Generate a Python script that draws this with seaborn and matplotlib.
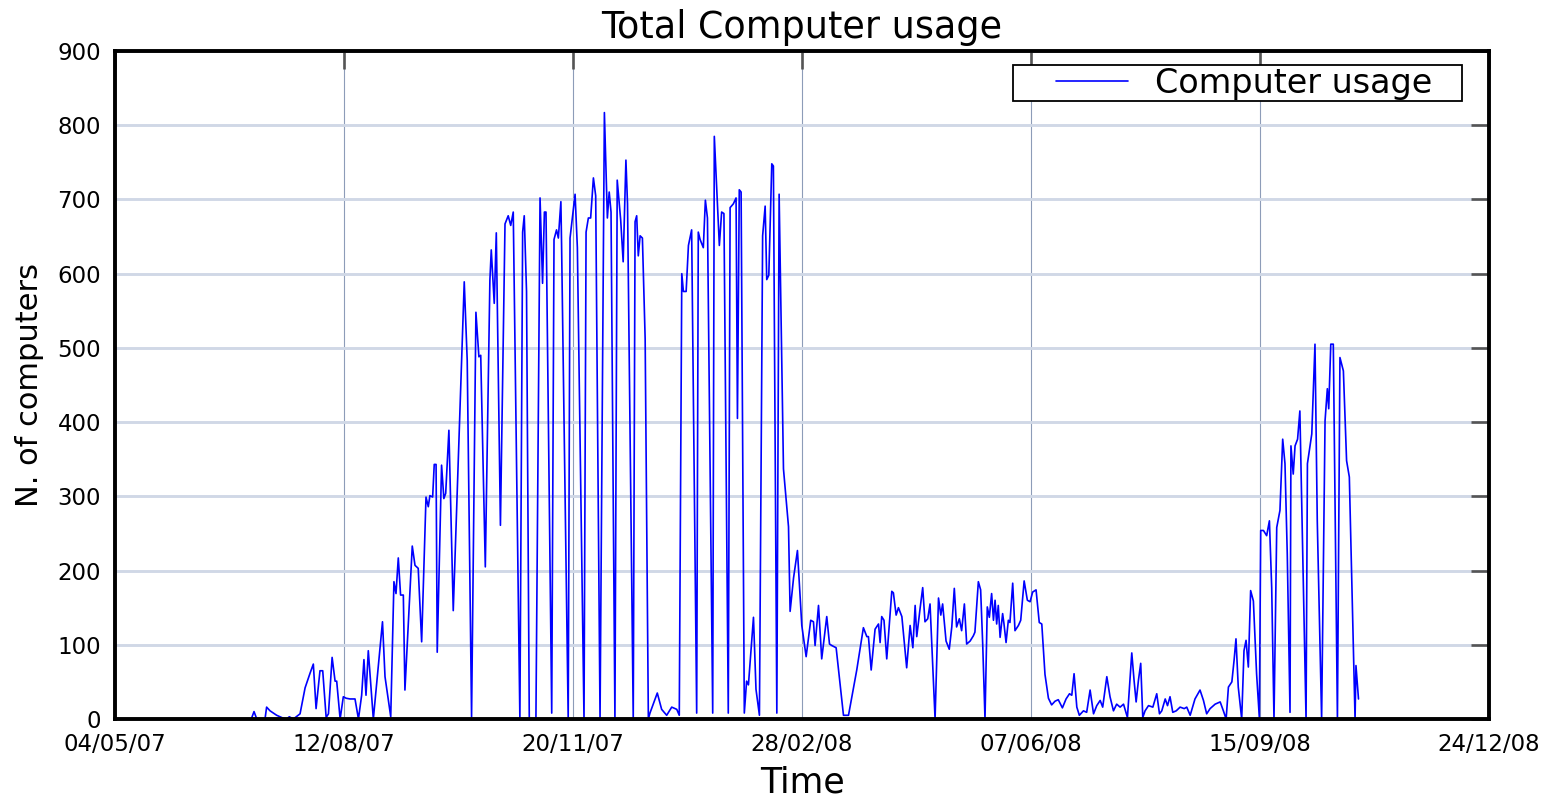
import pandas as pd
import matplotlib
matplotlib.use("Agg")
import matplotlib.pyplot as plt
import matplotlib.dates as mdates
from matplotlib.legend_handler import HandlerLine2D
from matplotlib.path import Path
import seaborn as sns

# Days counted from 04/05/07, and number of computers
start = pd.Timestamp("2007-05-04")
day_offset = [
    59.5, 60.7, 61.9, 65.5, 66.2, 67.7, 70.6, 73.5, 75.0, 76.1, 77.9, 80.8, 83.0, 85.2, 86.6,
    87.8, 89.5, 90.7, 92.2, 93.2, 94.8, 96.1, 96.8, 98.3, 99.7, 100.9, 102.6, 104.8, 106.3,
    107.7, 108.7, 109.6, 110.6, 112.8, 116.8, 117.9, 120.4, 121.8, 122.7, 123.7, 124.7, 125.9,
    126.6, 129.8, 131.0, 132.4, 133.9, 135.8, 136.8, 137.5, 138.7, 139.4, 140.2, 140.7, 142.6,
    143.6, 144.4, 145.8, 147.7, 152.5, 153.8, 155.7, 157.6, 158.9, 159.7, 161.7, 163.7, 164.3,
    165.6, 166.5, 168.3, 170.3, 171.7, 172.8, 173.9, 176.8, 178.0, 178.7, 179.7, 180.9, 183.8,
    185.6, 186.7, 187.5, 188.2, 190.7, 191.7, 192.8, 193.6, 194.7, 195.0, 197.9, 198.7, 200.9,
    201.9, 204.8, 205.7, 206.7, 207.7, 208.9, 209.9, 211.8, 213.7, 215.0, 215.8, 216.6, 218.3,
    219.3, 220.8, 221.9, 223.1, 223.8, 226.3, 227.1, 227.8, 228.5, 229.3, 230.3, 231.5, 232.9,
    233.6, 236.8, 238.7, 240.9, 243.1, 245.3, 246.4, 247.5, 248.2, 249.4, 250.4, 251.8, 254.0,
    254.7, 255.5, 256.9, 257.8, 258.7, 261.0, 261.7, 263.9, 264.9, 265.9, 267.8, 268.6, 270.0,
    271.2, 271.8, 272.6, 273.4, 274.8, 275.8, 276.6, 278.8, 279.9, 281.4, 282.8, 283.9, 284.6,
    285.5, 286.8, 287.5, 289.0, 290.0, 291.9, 294.1, 294.8, 296.3, 298.0, 299.9, 301.8, 303.8,
    305.0, 305.7, 307.2, 308.6, 310.8, 312.0, 313.0, 314.9, 318.1, 320.3, 323.9, 326.8, 328.3,
    329.0, 330.2, 331.9, 333.4, 334.1, 334.8, 335.8, 337.0, 339.2, 339.9, 341.1, 342.1, 343.6,
    345.7, 347.2, 348.4, 349.4, 350.1, 351.6, 352.7, 353.7, 354.9, 355.9, 358.1, 359.6, 360.6,
    361.4, 362.9, 364.3, 365.4, 366.5, 367.5, 368.7, 369.7, 370.9, 371.9, 373.4, 374.8, 375.5,
    377.0, 378.0, 378.9, 379.9, 380.9, 381.8, 382.8, 383.6, 384.3, 385.0, 385.7, 386.5, 387.6,
    388.2, 389.1, 390.1, 390.8, 392.0, 393.0, 394.5, 395.5, 397.0, 398.4, 399.6, 400.7, 402.2,
    403.6, 404.7, 406.1, 407.6, 409.0, 410.5, 411.9, 413.7, 415.3, 416.8, 417.8, 418.8, 420.0,
    421.1, 422.9, 424.3, 425.8, 427.3, 428.7, 430.2, 431.3, 433.1, 434.5, 436.0, 437.4, 438.9,
    440.4, 442.1, 444.0, 445.0, 445.9, 446.9, 447.9, 448.8, 449.8, 451.3, 453.2, 454.9, 456.1,
    457.1, 458.6, 459.6, 460.7, 461.9, 463.4, 465.1, 466.9, 468.0, 469.5, 471.6, 473.8, 475.3,
    476.7, 478.2, 480.4, 482.6, 484.0, 485.2, 486.2, 487.7, 488.7, 489.5, 490.5, 492.0, 493.0,
    493.9, 494.9, 495.9, 497.1, 498.5, 499.7, 500.3, 501.5, 502.9, 504.1, 505.1, 506.1, 507.3,
    508.7, 509.9, 510.9, 511.9, 513.1, 513.5, 514.5, 515.3, 516.4, 517.4, 518.6, 520.1, 520.7,
    522.6, 524.0, 525.0, 526.9, 528.4, 529.4, 530.0, 530.9, 532.0, 533.8, 534.9, 536.4, 537.8,
    539.0, 541.5, 541.9, 543.0,
]
computers = [
    0, 10, 0, 0, 16, 11, 5, 1, 0, 3, 0, 7, 42, 62, 74,
    14, 65, 65, 2, 7, 83, 51, 51, 0, 30, 28, 27, 27, 0,
    32, 80, 32, 92, 0, 131, 57, 3, 185, 169, 217, 167, 167,
    39, 233, 207, 203, 104, 299, 286, 301, 299, 343, 343, 90, 342,
    297, 304, 389, 146, 589, 483, 3, 548, 488, 490, 205, 591, 632,
    560, 655, 261, 667, 678, 665, 683, 0, 656, 678, 576, 0, 0,
    702, 587, 683, 683, 8, 646, 659, 648, 697, 640, 0, 648, 707,
    635, 0, 656, 675, 675, 729, 705, 0, 817, 675, 710, 683, 0,
    726, 673, 616, 753, 694, 0, 670, 678, 624, 651, 648, 512, 0,
    8, 35, 13, 5, 16, 13, 5, 600, 576, 576, 638, 659, 8,
    656, 646, 635, 699, 675, 8, 785, 638, 683, 681, 8, 689, 694,
    702, 405, 713, 710, 8, 51, 46, 137, 40, 5, 651, 691, 592,
    598, 748, 745, 8, 707, 337, 259, 145, 190, 227, 126, 84, 133,
    131, 99, 153, 81, 138, 101, 99, 96, 5, 5, 66, 123, 111,
    111, 66, 121, 128, 103, 138, 133, 81, 172, 170, 140, 150, 138,
    69, 126, 96, 153, 111, 150, 177, 131, 135, 155, 0, 163, 140,
    155, 105, 94, 124, 176, 124, 135, 119, 155, 101, 105, 112, 117,
    185, 174, 101, 0, 151, 137, 169, 133, 160, 128, 153, 110, 142,
    128, 103, 133, 130, 183, 119, 126, 133, 186, 160, 158, 171, 174,
    130, 128, 60, 28, 19, 24, 26, 15, 27, 34, 32, 61, 16,
    5, 11, 9, 39, 7, 18, 25, 16, 57, 30, 11, 20, 16,
    20, 2, 89, 52, 23, 52, 75, 2, 11, 18, 16, 34, 7,
    11, 27, 18, 30, 9, 11, 16, 14, 16, 5, 27, 39, 25,
    7, 14, 20, 23, 11, 0, 43, 50, 80, 108, 43, 0, 92,
    106, 70, 173, 159, 61, 2, 254, 254, 247, 267, 177, 0, 258,
    281, 377, 344, 222, 9, 368, 330, 368, 377, 415, 231, 0, 344,
    384, 505, 267, 0, 402, 445, 418, 505, 505, 0, 487, 469, 348,
    326, 0, 72, 27,
]
tick_labels = ["04/05/07", "12/08/07", "20/11/07", "28/02/08", "07/06/08", "15/09/08", "24/12/08"]

df = pd.DataFrame({
    "date": start + pd.to_timedelta(day_offset, unit="D"),
    "computers": computers,
})
tick_dates = pd.to_datetime(tick_labels, format="%d/%m/%y")


class ShortLineHandler(HandlerLine2D):
    # legend sample line drawn only over the right part of the handle box
    def create_artists(self, legend, orig_handle, xdescent, ydescent,
                       width, height, fontsize, trans):
        artists = super().create_artists(legend, orig_handle, xdescent, ydescent,
                                         width, height, fontsize, trans)
        y = artists[0].get_ydata()[0]
        artists[0].set_data([-xdescent + width * 0.36, -xdescent + width], [y, y])
        return artists


def box_extra_right(x0, y0, width, height, mutation_size):
    # square legend frame with some extra room after the text
    x1 = x0 + width + 0.85 * mutation_size
    y1 = y0 + height
    return Path([(x0, y0), (x1, y0), (x1, y1), (x0, y1), (x0, y0)], closed=True)


sns.set_style("white")
plt.rcParams["font.family"] = ["DejaVu Sans"]
plt.rcParams["text.color"] = "black"
plt.rcParams["axes.labelcolor"] = "black"
plt.rcParams["xtick.color"] = "black"
plt.rcParams["ytick.color"] = "black"

fig = plt.figure(figsize=(15.48, 7.98), dpi=100)
ax = fig.add_axes([0.0743, 0.099, 0.8876, 0.8371])

sns.lineplot(data=df, x="date", y="computers", color="blue", lw=1.2,
             label="Computer usage", estimator=None, ax=ax)

ax.set_xlim(tick_dates[0], tick_dates[-1])
ax.set_ylim(0, 900)
ax.set_xticks(tick_dates)
ax.xaxis.set_major_formatter(mdates.DateFormatter("%d/%m/%y"))
ax.set_yticks(range(0, 901, 100))

ax.grid(axis="y", color="#d0d8e6", lw=2.1)
ax.grid(axis="x", color="#8d9cb8", lw=0.8)
ax.set_axisbelow(True)

for s in ax.spines.values():
    s.set_color("black")
    s.set_linewidth(2.8)

ax.tick_params(axis="both", which="major", direction="in", length=13, width=1.9,
               color="#555555", labelcolor="black", top=True, right=True,
               labelsize=16.5, pad=10)

ax.set_title("Total Computer usage", fontsize=26.3, pad=9)
ax.set_xlabel("Time", fontsize=25, labelpad=7)
ax.set_ylabel("N. of computers", fontsize=22, labelpad=10)

leg = ax.legend(loc="upper right", bbox_to_anchor=(0.9598, 0.979), borderaxespad=0,
                fontsize=24, frameon=True, fancybox=False, borderpad=0.05,
                handlelength=3.4, handletextpad=0.8,
                handler_map={plt.Line2D: ShortLineHandler()})
leg.get_frame().set_boxstyle(box_extra_right)
leg.get_frame().set_edgecolor("black")
leg.get_frame().set_linewidth(1.3)
leg.get_frame().set_alpha(1)

fig.savefig("out.png", dpi=100)
